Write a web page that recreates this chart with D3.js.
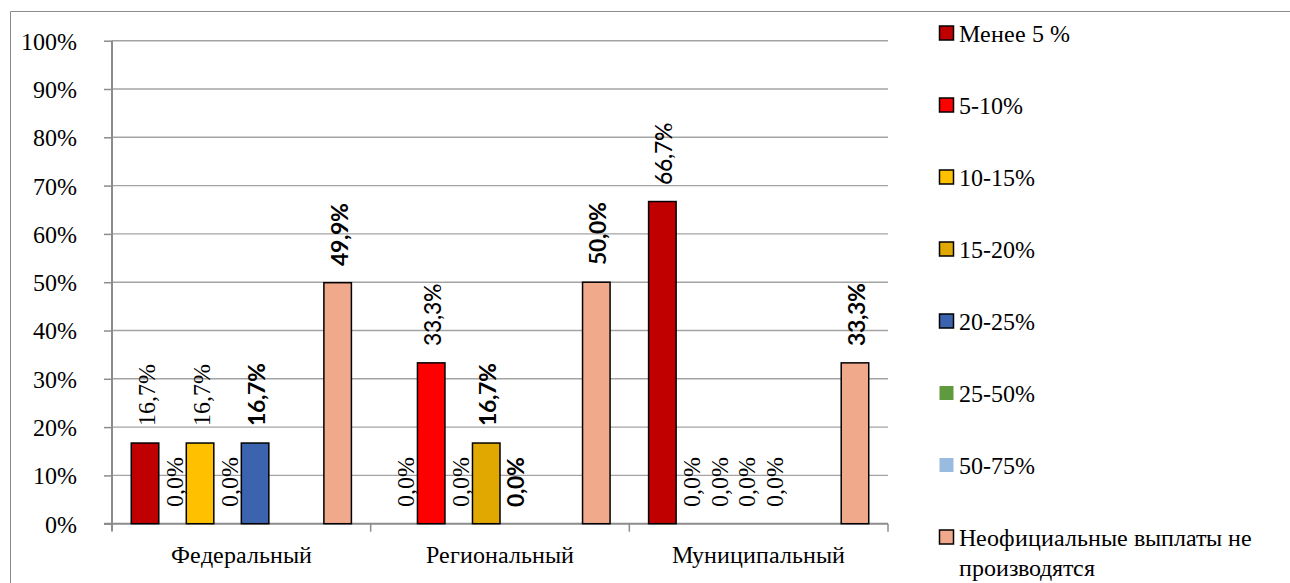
<!DOCTYPE html>
<html>
<head>
<meta charset="utf-8">
<script src="https://cdn.jsdelivr.net/npm/d3@7"></script>
<style>
  @font-face {
    font-family: "RefSerif";
    src: local("Liberation Serif"), local("LiberationSerif"), local("LiberationSerif-Regular"),
         local("Liberation Serif Regular"), local("Tinos"), local("Times New Roman"), local("DejaVu Serif");
    font-weight: 400;
  }
  @font-face {
    font-family: "RefSans";
    src: local("Lato"), local("Lato Regular"), local("Lato-Regular"), local("Open Sans");
    font-weight: 400;
  }
  @font-face {
    font-family: "RefSans";
    src: local("Lato Bold"), local("Lato-Bold"), local("Open Sans Bold");
    font-weight: 700;
  }
</style>
</head>
<body style="margin:0">
<svg id="chart" width="1290" height="583"></svg>
<script>
// ---- Data ----
const categories = ["Федеральный", "Региональный", "Муниципальный"];
const seriesNames = ["Менее 5 %", "5-10%", "10-15%", "15-20%", "20-25%", "25-50%", "50-75%", "Неофициальные выплаты не производятся"];
// values in percent per series, per category (null = no value)
const valMenee5   = [16.7, 0.0, 66.7];
const val5_10     = [0.0, 33.3, 0.0];
const val10_15    = [16.7, 0.0, 0.0];
const val15_20    = [0.0, 16.7, 0.0];
const val20_25    = [16.7, 0.0, 0.0];
const val25_50    = [null, null, null];
const val50_75    = [null, null, null];
const valNeofic   = [49.9, 50.0, 33.3];
const yTicks = [0, 10, 20, 30, 40, 50, 60, 70, 80, 90, 100];

// ---- Styles ----
const seriesColors = ["#C00000", "#FF0000", "#FFC000", "#E0A800", "#3C64AE", "#5F9A3E", "#9ABBE0", "#F0A98A"];
// label font style per category/series (s = serif, n = sans, b = sans bold)
const labelStyles = [
  ["s", "s", "s", "s", "b", null, null, "b"],
  ["s", "n", "s", "b", "b", null, null, "b"],
  ["n", "s", "s", "s", "s", null, null, "b"]
];

const seriesValues = [valMenee5, val5_10, val10_15, val15_20, val20_25, val25_50, val50_75, valNeofic];

const SERIF = '"RefSerif", "Liberation Serif", "Times New Roman", Times';
const SANS = '"RefSans", "Lato", "Open Sans"';

const svg = d3.select("#chart");
const plot = { left: 112, right: 888, top: 40.7, bottom: 523.7 };

// outer border (cropped chart frame)
svg.append("line").attr("x1", 10.5).attr("x2", 1290).attr("y1", 11.5).attr("y2", 11.5)
  .attr("stroke", "#8c8c8c").attr("stroke-width", 1);
svg.append("line").attr("x1", 10.5).attr("x2", 10.5).attr("y1", 11.5).attr("y2", 583)
  .attr("stroke", "#8c8c8c").attr("stroke-width", 1);

const x0 = d3.scaleBand().domain(categories).range([plot.left, plot.right]).padding(0);
const x1 = d3.scaleBand().domain(d3.range(seriesNames.length)).range([0, x0.bandwidth()])
  .paddingInner(0).paddingOuter(0.7);
const y = d3.scaleLinear().domain([0, 100]).range([plot.bottom, plot.top]);

// gridlines
svg.append("g").selectAll("line").data(yTicks.filter(t => t > 0)).join("line")
  .attr("x1", plot.left).attr("x2", plot.right)
  .attr("y1", d => y(d)).attr("y2", d => y(d))
  .attr("stroke", "#a3a3a3").attr("stroke-width", 1.4);

// y axis
const yAxis = d3.axisLeft(y).tickValues(yTicks).tickFormat(d => d + "%").tickSize(8).tickPadding(27);
const gy = svg.append("g").attr("transform", `translate(${plot.left},0)`).call(yAxis);
gy.select(".domain").attr("stroke", "#8c8c8c").attr("stroke-width", 2).attr("d", `M0,${plot.top}V${plot.bottom + 7}`);
gy.selectAll(".tick line").attr("stroke", "#8c8c8c").attr("stroke-width", 1.5);
gy.selectAll(".tick text").attr("fill", "#000").attr("dy", "0.35em")
  .attr("font-family", SERIF).attr("font-size", 24).style("font-family", SERIF);

// x axis
const xAxis = d3.axisBottom(x0).tickSize(0).tickPadding(22);
const gx = svg.append("g").attr("transform", `translate(0,${plot.bottom})`).call(xAxis);
gx.select(".domain").attr("stroke", "#8c8c8c").attr("stroke-width", 2).attr("d", `M${plot.left - 8},0H${plot.right}`);
gx.selectAll(".tick text").attr("fill", "#000").attr("font-family", SERIF).attr("font-size", 24)
  .style("font-family", SERIF);
// category separators
svg.append("g").selectAll("line").data(categories.concat(["__end"])).join("line")
  .attr("x1", (d, i) => i < categories.length ? x0(d) : plot.right)
  .attr("x2", (d, i) => i < categories.length ? x0(d) : plot.right)
  .attr("y1", plot.bottom).attr("y2", plot.bottom + 8)
  .attr("stroke", "#8c8c8c").attr("stroke-width", 1.5);

// bars
const points = [];
categories.forEach((c, ci) => {
  seriesValues.forEach((arr, si) => {
    points.push({ c, ci, si, v: arr[ci] });
  });
});

svg.append("g").selectAll("rect").data(points.filter(p => p.v != null && p.v > 0)).join("rect")
  .attr("x", p => x0(p.c) + x1(p.si))
  .attr("width", x1.bandwidth())
  .attr("y", p => y(p.v))
  .attr("height", p => y(0) - y(p.v))
  .attr("fill", p => seriesColors[p.si])
  .attr("stroke", "#000").attr("stroke-width", 1.5);

// data labels
const fmt = v => v.toFixed(1).replace(".", ",") + "%";
svg.append("g").selectAll("text").data(points.filter(p => p.v != null)).join("text")
  .attr("transform", p => {
    const cx = x0(p.c) + x1(p.si) + x1.bandwidth() / 2 + 2;
    const ty = y(p.v) - 17;
    return `translate(${cx},${ty}) rotate(-90)`;
  })
  .attr("dy", "0.35em")
  .attr("text-anchor", "start")
  .attr("font-family", p => labelStyles[p.ci][p.si] === "s" ? SERIF : SANS)
  .style("font-family", p => labelStyles[p.ci][p.si] === "s" ? SERIF : SANS)
  .attr("font-weight", p => labelStyles[p.ci][p.si] === "b" ? 700 : 400)
  .attr("font-size", p => labelStyles[p.ci][p.si] === "s" ? 24 : 23)
  .attr("fill", "#000")
  .text(p => fmt(p.v));

// legend
const legY = d3.scaleLinear().domain([0, 1]).range([33, 105]);
seriesNames.forEach((name, i) => {
  const cy = legY(i);
  const hasData = seriesValues[i].some(v => v != null);
  svg.append("rect")
    .attr("x", 939.5).attr("y", cy - 7).attr("width", 14).attr("height", 14)
    .attr("fill", seriesColors[i])
    .attr("stroke", hasData ? "#000" : "none").attr("stroke-width", 1.5);
  const t = svg.append("text")
    .attr("x", 959).attr("y", cy + 8.5).attr("fill", "#000")
    .attr("font-family", SERIF).style("font-family", SERIF).attr("font-size", 24);
  if (i === seriesNames.length - 1) {
    t.append("tspan").attr("x", 959).text("Неофициальные выплаты не");
    t.append("tspan").attr("x", 959).attr("dy", 30).text("производятся");
  } else {
    t.text(name);
  }
});
</script>
</body>
</html>
